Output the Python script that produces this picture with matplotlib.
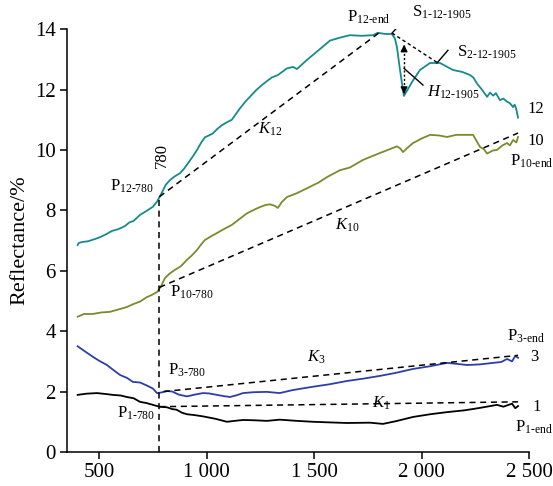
import numpy as np
import matplotlib.pyplot as plt

plt.rcParams['font.family'] = ['Liberation Serif', 'DejaVu Serif']
plt.rcParams['mathtext.fontset'] = 'custom'
plt.rcParams['mathtext.rm'] = 'Liberation Serif'
plt.rcParams['mathtext.it'] = 'Liberation Serif:italic'

# spectra (wavelength nm, reflectance %)
x12 = [400, 405, 420, 450, 480, 500, 530, 560, 590, 620, 640, 660, 690, 720, 750, 770, 791,
       810, 829, 850, 876, 895, 913, 935, 955, 975, 992, 1010, 1029, 1050, 1071, 1095, 1117,
       1135, 1155, 1180, 1201, 1230, 1257, 1280, 1303, 1331, 1373, 1401, 1420, 1466, 1520,
       1573, 1620, 1666, 1720, 1773, 1796, 1830, 1861, 1875, 1885, 1899, 1917, 1935, 1955,
       1992, 2039, 2085, 2145, 2190, 2225, 2240, 2257, 2280, 2304, 2318, 2332, 2345, 2364,
       2380, 2397, 2410, 2425, 2432, 2439, 2448]
y12 = [6.85, 6.92, 6.95, 6.98, 7.05, 7.1, 7.2, 7.32, 7.38, 7.48, 7.6, 7.65, 7.85, 7.98, 8.12, 8.3, 8.58,
       8.85, 9.0, 9.12, 9.23, 9.38, 9.56, 9.78, 10.0, 10.25, 10.42, 10.48, 10.55, 10.7, 10.82, 10.92, 11.0,
       11.18, 11.38, 11.6, 11.76, 11.98, 12.15, 12.28, 12.4, 12.48, 12.7, 12.75, 12.68, 12.98, 13.3,
       13.62, 13.72, 13.8, 13.78, 13.8, 13.88, 13.84, 13.84, 13.7, 13.4, 12.65, 11.79, 12.0, 12.25,
       12.65, 12.88, 12.88, 12.65, 12.58, 12.48, 12.4, 12.2, 12.0, 11.76, 11.9, 11.8, 11.88, 11.65,
       11.7, 11.6, 11.55, 11.42, 11.5, 11.38, 11.07]

x10 = [400, 430, 471, 510, 550, 590, 629, 660, 690, 720, 745, 770, 787, 806, 830, 852, 880, 908,
       930, 955, 975, 992, 1020, 1048, 1080, 1117, 1150, 1187, 1220, 1248, 1275, 1294, 1317,
       1331, 1350, 1373, 1420, 1480, 1520, 1559, 1620, 1666, 1727, 1806, 1860, 1885, 1900, 1913,
       1935, 1960, 2000, 2039, 2080, 2118, 2160, 2192, 2239, 2255, 2271, 2290, 2304, 2330, 2350,
       2375, 2397, 2410, 2425, 2440, 2448]
y10 = [4.48, 4.57, 4.57, 4.62, 4.64, 4.72, 4.8, 4.9, 4.98, 5.12, 5.2, 5.3, 5.48, 5.76, 5.92, 6.03, 6.15, 6.36,
       6.5, 6.69, 6.88, 7.02, 7.14, 7.25, 7.38, 7.52, 7.7, 7.9, 8.02, 8.11, 8.18, 8.2, 8.15,
       8.08, 8.28, 8.44, 8.57, 8.78, 8.92, 9.1, 9.33, 9.42, 9.67, 9.9, 10.05, 10.12, 10.05, 9.93,
       10.08, 10.23, 10.38, 10.5, 10.48, 10.43, 10.5, 10.5, 10.5, 10.3, 10.1, 10.02, 9.88, 9.98, 10.0,
       10.15, 10.23, 10.15, 10.33, 10.25, 10.43]

x3 = [400, 430, 471, 500, 536, 565, 597, 630, 657, 690, 722, 750, 769, 790, 815, 840, 870, 908,
      945, 982, 1010, 1048, 1080, 1108, 1140, 1169, 1220, 1280, 1340, 1400, 1494, 1570, 1652,
      1730, 1806, 1880, 1960, 2040, 2118, 2160, 2211, 2270, 2332, 2370, 2397, 2420, 2435, 2448]
y3 = [3.5, 3.35, 3.15, 3.02, 2.88, 2.72, 2.55, 2.45, 2.32, 2.3, 2.2, 2.1, 1.95, 1.97, 2.02, 2.0, 1.9, 1.84,
      1.9, 1.95, 1.94, 1.89, 1.85, 1.82, 1.88, 1.95, 1.98, 1.99, 1.95, 2.05, 2.16, 2.24, 2.35,
      2.43, 2.52, 2.62, 2.75, 2.84, 2.95, 2.92, 2.88, 2.9, 2.95, 2.98, 3.08, 3.0, 3.18, 3.12]

x1 = [400, 440, 490, 530, 564, 600, 629, 660, 690, 720, 750, 780, 815, 840, 860, 885, 908, 945,
      982, 1040, 1094, 1130, 1169, 1220, 1280, 1340, 1420, 1494, 1570, 1652, 1760, 1820, 1880,
      1960, 2040, 2118, 2200, 2271, 2350, 2380, 2400, 2420, 2435, 2448]
y1 = [1.89, 1.93, 1.95, 1.92, 1.89, 1.87, 1.82, 1.78, 1.66, 1.62, 1.56, 1.5, 1.48, 1.42, 1.4, 1.3, 1.25, 1.22,
      1.18, 1.1, 1.0, 1.03, 1.06, 1.05, 1.03, 1.07, 1.03, 1.0, 0.98, 0.96, 0.97, 0.93, 1.02,
      1.16, 1.25, 1.32, 1.38, 1.46, 1.56, 1.5, 1.55, 1.6, 1.45, 1.52]

# construction points of the continuum lines
p12_780 = (780, 8.45)
p12_end = (1800, 13.87)
s1 = (1862, 13.87)
s2 = (2071, 12.9)
h_top = 13.58
h_bot = 11.76
p10_780 = (780, 5.45)
p10_end = (2448, 10.56)
p3_780 = (800, 2.0)
p3_end = (2448, 3.2)
p1_780 = (780, 1.5)
p1_end = (2448, 1.66)

fig, ax = plt.subplots(figsize=(5.53, 4.86), dpi=100)
fig.subplots_adjust(left=0.121, right=0.957, bottom=0.070, top=0.940)

ax.plot(x12, y12, color='#178b8b', lw=1.3)
ax.plot(x10, y10, color='#7b8a2c', lw=1.3)
ax.plot(x3, y3, color='#2e3ea8', lw=1.3)
ax.plot(x1, y1, color='black', lw=1.3)

dash = (0, (4, 3))
for a, b in [(p12_780, p12_end), (p10_780, p10_end), (p3_780, p3_end), (p1_780, p1_end)]:
    ax.plot([a[0], b[0]], [a[1], b[1]], color='black', lw=1.1, ls=dash)
ax.plot([780, 780], [0, p12_780[1]], color='black', lw=1.1, ls=dash)
ax.plot([s1[0], s2[0]], [s1[1], s2[1]], color='black', lw=1.0, ls=(0, (2.5, 2)))

# depth arrow of the 1905 nm feature
ax.plot([1918, 1918], [h_top - 0.1, h_bot + 0.1], color='black', lw=1.0, ls=(0, (1.5, 1.5)))
ax.annotate('', xy=(1918, h_top), xytext=(1918, h_top - 0.35),
            arrowprops=dict(arrowstyle='-|>', color='black', lw=1.0, mutation_scale=10))
ax.annotate('', xy=(1918, h_bot), xytext=(1918, h_bot + 0.35),
            arrowprops=dict(arrowstyle='-|>', color='black', lw=1.0, mutation_scale=10))

# leader lines
ax.plot([1862, 1927], [13.87, 14.37], color='black', lw=1.0)
ax.plot([2071, 2122], [12.88, 13.3], color='black', lw=1.0)
ax.plot([1918, 2006], [12.7, 12.15], color='black', lw=1.0)

fs = 12
ax.text(792, 9.83, '780', rotation=90, fontsize=fs, ha='center', va='center')
ax.text(550, 8.8, r'P$_{\mathrm{12\text{-}780}}$', fontsize=fs, va='center')
ax.text(1238, 10.7, r'$K_{\mathrm{12}}$', fontsize=fs, va='center')
ax.text(1652, 14.4, r'P$_{\mathrm{12\text{-}end}}$', fontsize=fs, va='center')
ax.text(1955, 14.57, r'S$_{\mathrm{1\text{-}12\text{-}1905}}$', fontsize=fs, va='center')
ax.text(2164, 13.24, r'S$_{\mathrm{2\text{-}12\text{-}1905}}$', fontsize=fs, va='center')
ax.text(2025, 11.9, r'$H_{\mathrm{12\text{-}1905}}$', fontsize=fs, va='center')
ax.text(2494, 11.36, '12', fontsize=fs, va='center')
ax.text(2494, 10.3, '10', fontsize=fs, va='center')
ax.text(2410, 9.64, r'P$_{\mathrm{10\text{-}end}}$', fontsize=fs, va='center')
ax.text(1597, 7.5, r'$K_{\mathrm{10}}$', fontsize=fs, va='center')
ax.text(829, 5.3, r'P$_{\mathrm{10\text{-}780}}$', fontsize=fs, va='center')
ax.text(820, 2.72, r'P$_{\mathrm{3\text{-}780}}$', fontsize=fs, va='center')
ax.text(583, 1.29, r'P$_{\mathrm{1\text{-}780}}$', fontsize=fs, va='center')
ax.text(1466, 3.15, r'$K_{\mathrm{3}}$', fontsize=fs, va='center')
ax.text(1768, 1.62, r'$K_{\mathrm{1}}$', fontsize=fs, va='center')
ax.text(2396, 3.84, r'P$_{\mathrm{3\text{-}end}}$', fontsize=fs, va='center')
ax.text(2503, 3.15, '3', fontsize=fs, va='center')
ax.text(2513, 1.49, '1', fontsize=fs, va='center')
ax.text(2434, 0.83, r'P$_{\mathrm{1\text{-}end}}$', fontsize=fs, va='center')

xticks = [500, 1000, 1500, 2000, 2500]
xlabels = ['500', '1 000', '1 500', '2 000', '2 500']
ax.set_xlim(350, 2500)
ax.set_ylim(0, 14)
ax.set_xticks(xticks)
ax.set_xticklabels(xlabels)
ax.set_yticks(range(0, 15, 2))
ax.tick_params(direction='out', length=5, width=1.1, labelsize=15, pad=3)
ax.spines['top'].set_visible(False)
ax.spines['right'].set_visible(False)
ax.spines['left'].set_linewidth(1.1)
ax.spines['bottom'].set_linewidth(1.1)
ax.set_ylabel('Reflectance/%', fontsize=16, labelpad=4)

fig.savefig('out.png', dpi=100)
